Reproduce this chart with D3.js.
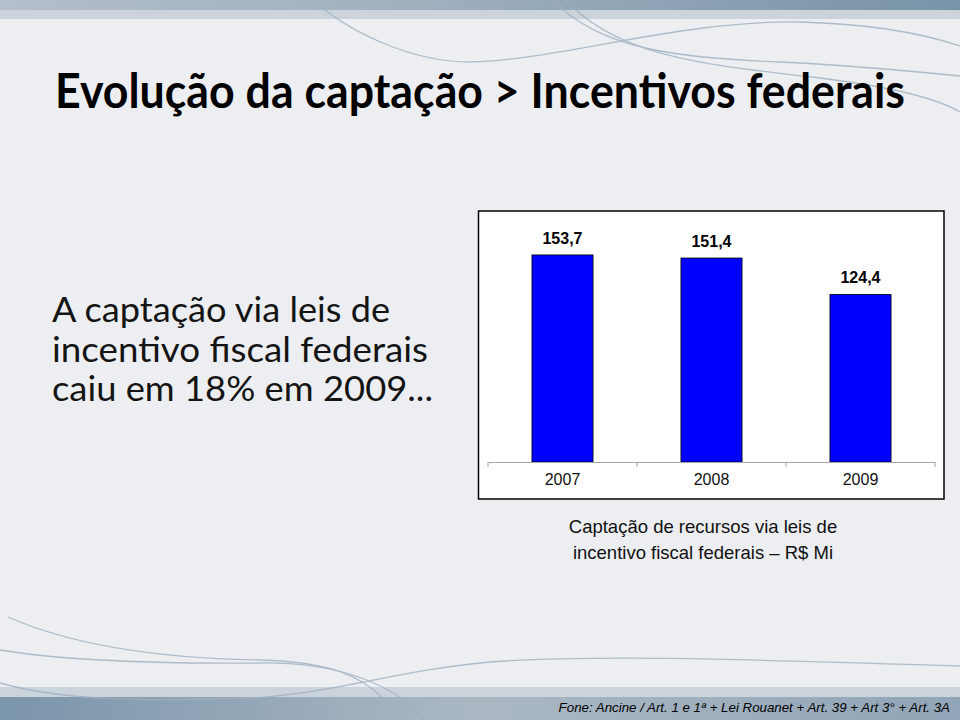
<!DOCTYPE html>
<html>
<head>
<meta charset="utf-8">
<script src="https://cdn.jsdelivr.net/npm/d3@7"></script>
<style>
  body { margin: 0; background: #eceef1; }
  svg { display: block; }
</style>
</head>
<body>
<div id="slide"></div>
<script>
// dados do grafico
const anos = ["2007", "2008", "2009"];
const captacao = [153.7, 151.4, 124.4];
const titulo = "Evolução da captação > Incentivos federais";
const texto = ["A captação via leis de", "incentivo fiscal federais", "caiu em 18% em 2009..."];
const legenda = ["Captação de recursos via leis de", "incentivo fiscal federais – R$ Mi"];
const fonte = "Fone: Ancine / Art. 1 e 1ª + Lei Rouanet + Art. 39 + Art 3° + Art. 3A";

const W = 960, H = 720;
const br = d3.formatLocale({decimal: ",", thousands: ".", grouping: [3], currency: ["R$", ""]});
const fmt = br.format(".1f");

const svg = d3.select("#slide").append("svg")
    .attr("width", W)
    .attr("height", H);

const defs = svg.append("defs");
const gTop = defs.append("linearGradient").attr("id", "gtop");
gTop.append("stop").attr("offset", "0%").attr("stop-color", "#b3bfca");
gTop.append("stop").attr("offset", "45%").attr("stop-color", "#9eafbe");
gTop.append("stop").attr("offset", "100%").attr("stop-color", "#7893a8");
const gBot = defs.append("linearGradient").attr("id", "gbot");
gBot.append("stop").attr("offset", "0%").attr("stop-color", "#7b95ab");
gBot.append("stop").attr("offset", "50%").attr("stop-color", "#abb8c4");
gBot.append("stop").attr("offset", "100%").attr("stop-color", "#90a5b7");

// fundo do slide
svg.append("rect").attr("width", W).attr("height", H).attr("fill", "#eceef1");
svg.append("rect").attr("y", 0).attr("width", W).attr("height", 10).attr("fill", "url(#gtop)");
svg.append("rect").attr("y", 10).attr("width", W).attr("height", 9).attr("fill", "#ccd3db");
svg.append("rect").attr("y", 687).attr("width", W).attr("height", 10).attr("fill", "#cbd3db");
svg.append("rect").attr("y", 697).attr("width", W).attr("height", 23).attr("fill", "url(#gbot)");

// linhas decorativas
const curvas = [
  "M312,0 C360,40 420,62 470,62 C560,60 680,20 800,22 C880,24 930,36 960,46",
  "M553,0 C600,50 680,58 780,62 C860,66 920,72 960,76",
  "M566,0 C620,60 720,66 820,78 C900,88 940,100 960,112",
  "M8,617 C60,640 140,658 260,660 C330,662 360,675 385,700 C395,710 400,716 404,720",
  "M0,650 C60,660 140,664 260,663 C330,662 380,680 410,705 C416,712 420,716 424,720",
  "M0,683 C60,700 140,702 250,698 C330,694 400,670 490,662 C600,654 760,660 960,666"
];
svg.append("g")
    .attr("fill", "none")
    .attr("stroke", "#9fb0c0")
    .attr("stroke-width", 1.3)
    .attr("opacity", 0.8)
  .selectAll("path")
  .data(curvas)
  .join("path")
    .attr("d", d => d);

// titulo
svg.append("text")
    .attr("x", 55)
    .attr("y", 108)
    .attr("textLength", 850)
    .attr("lengthAdjust", "spacingAndGlyphs")
    .attr("font-family", "Lato, 'Open Sans', sans-serif")
    .attr("font-weight", "bold")
    .attr("font-size", 47)
    .attr("fill", "#000")
    .text(titulo);

// texto lateral
const larguras = [338, 376, 381];
svg.append("g")
    .attr("font-family", "Lato, 'Open Sans', sans-serif")
    .attr("font-size", 35)
    .attr("fill", "#141414")
  .selectAll("text")
  .data(texto)
  .join("text")
    .attr("x", 52)
    .attr("y", (d, i) => 322 + i * 39.5)
    .attr("textLength", (d, i) => larguras[i])
    .attr("lengthAdjust", "spacingAndGlyphs")
    .text(d => d);

// caixa do grafico
svg.append("rect")
    .attr("x", 478.5)
    .attr("y", 211)
    .attr("width", 465.5)
    .attr("height", 288)
    .attr("fill", "#fff")
    .attr("stroke", "#000")
    .attr("stroke-width", 1.5);

const x = d3.scaleBand()
    .domain(anos)
    .range([488, 935])
    .padding(0);

const y = d3.scaleLinear()
    .domain([0, 180])
    .range([462, 219.5]);

const barW = x.bandwidth() * 0.41;

svg.append("g")
  .selectAll("rect")
  .data(anos)
  .join("rect")
    .attr("x", (d, i) => x(d) + (x.bandwidth() - barW) / 2)
    .attr("y", (d, i) => y(captacao[i]))
    .attr("width", barW)
    .attr("height", (d, i) => y(0) - y(captacao[i]))
    .attr("fill", "#0000ff")
    .attr("stroke", "#000")
    .attr("stroke-width", 0.8);

svg.append("g")
    .attr("font-family", "'Liberation Sans', Arial, sans-serif")
    .attr("font-weight", "bold")
    .attr("font-size", 16)
    .attr("text-anchor", "middle")
  .selectAll("text")
  .data(anos)
  .join("text")
    .attr("x", d => x(d) + x.bandwidth() / 2)
    .attr("y", (d, i) => y(captacao[i]) - 11)
    .text((d, i) => fmt(captacao[i]));

// eixo x
const eixo = svg.append("g")
    .attr("transform", `translate(0,${y(0)})`)
    .call(d3.axisBottom(x).tickSize(0).tickPadding(12));
eixo.select(".domain").attr("stroke", "#a6a6a6");
eixo.selectAll("text")
    .attr("font-family", "'Liberation Sans', Arial, sans-serif")
    .attr("font-size", 16)
    .attr("fill", "#111");

const bordas = anos.map(d => x(d)).concat([x(anos[anos.length - 1]) + x.bandwidth()]);
eixo.selectAll(".borda")
  .data(bordas)
  .join("line")
    .attr("class", "borda")
    .attr("x1", d => d)
    .attr("x2", d => d)
    .attr("y1", 0)
    .attr("y2", 5)
    .attr("stroke", "#a6a6a6");

// legenda
svg.append("g")
    .attr("font-family", "'Liberation Sans', Arial, sans-serif")
    .attr("font-size", 18.5)
    .attr("text-anchor", "middle")
    .attr("fill", "#111")
  .selectAll("text")
  .data(legenda)
  .join("text")
    .attr("x", 703)
    .attr("y", (d, i) => 533 + i * 26)
    .text(d => d);

// fonte
svg.append("text")
    .attr("x", 950)
    .attr("y", 712)
    .attr("text-anchor", "end")
    .attr("font-family", "'Liberation Sans', Arial, sans-serif")
    .attr("font-style", "italic")
    .attr("font-size", 13.3)
    .attr("fill", "#000")
    .text(fonte);
</script>
</body>
</html>
